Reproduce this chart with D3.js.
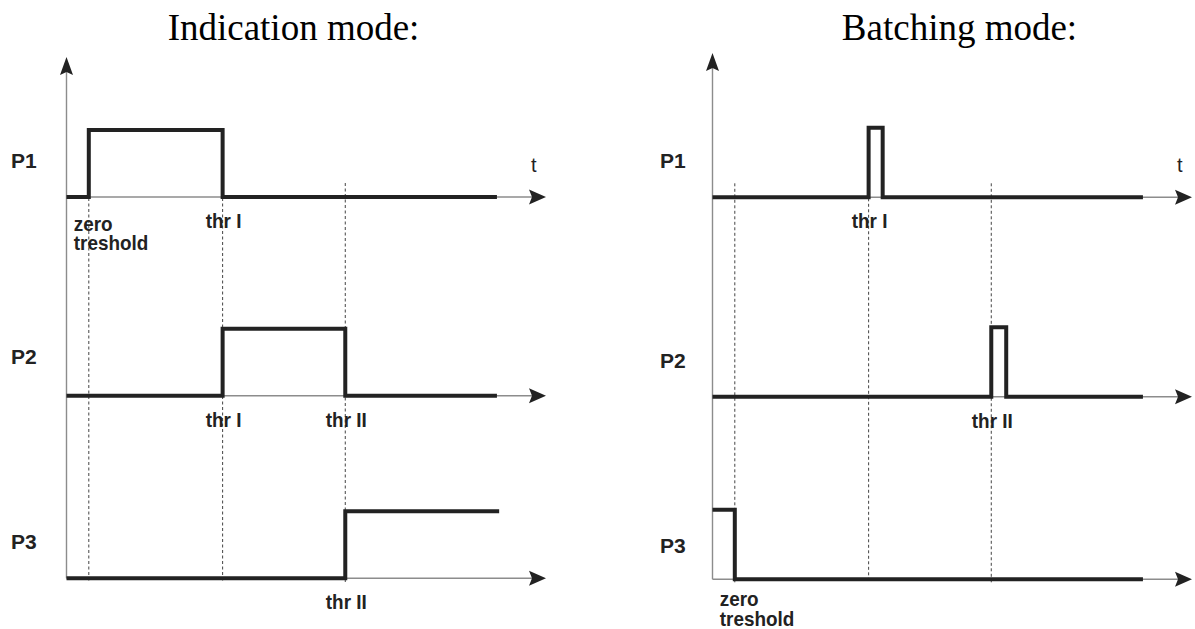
<!DOCTYPE html>
<html>
<head>
<meta charset="utf-8">
<script src="https://cdn.jsdelivr.net/npm/d3@7/dist/d3.min.js"></script>
<style>
  html, body { margin: 0; padding: 0; background: #fff; }
  svg { display: block; }
</style>
</head>
<body>
<script>
// ---- Data -------------------------------------------------------------
// Time axis in arbitrary units; threshold crossing instants.
const thresholdNames = ["zero treshold", "thr I", "thr II"];
const thresholdTimes = [1, 7, 12.5];
const rowNames = ["P1", "P2", "P3"];
const timeAxisEnd = 21.5;

// Step signals: breakpoints (t) and level that holds from each breakpoint on.
const indicationP1T = [0, 1, 7, 19.3];
const indicationP1V = [0, 1, 0, 0];
const indicationP2T = [0, 7, 12.5, 19.3];
const indicationP2V = [0, 1, 0, 0];
const indicationP3T = [0, 12.5, 19.4];
const indicationP3V = [0, 1, 1];

const batchingP1T = [0, 7, 7.63, 19.3];
const batchingP1V = [0, 1, 0, 0];
const batchingP2T = [0, 12.5, 13.17, 19.3];
const batchingP2V = [0, 1, 0, 0];
const batchingP3T = [0, 1, 19.3];
const batchingP3V = [1, 0, 0];

// Threshold labels under each row: [row index, threshold index]
const indicationLabels = [[0, 0], [0, 1], [1, 1], [1, 2], [2, 2]];
const batchingLabels = [[0, 1], [1, 2], [2, 0]];

// ---- Drawing ----------------------------------------------------------
const W = 1195, H = 629;
const svg = d3.select("body").append("svg")
  .attr("width", W).attr("height", H)
  .attr("viewBox", `0 0 ${W} ${H}`);

svg.append("rect").attr("width", W).attr("height", H).attr("fill", "#fff");

const INK = "#222";
const AXIS = "#8c8c8c";
const SANS = "'Liberation Sans', Arial, Helvetica, sans-serif";
const SERIF = "'Liberation Serif', 'Times New Roman', Times, serif";
const SMALL_SIZE = 21;     // threshold label size
const SMALL_SQUEEZE = 0.9; // slightly condensed label face

const toPoints = (ts, vs) => ts.map((t, i) => ({ t, v: vs[i] }));

// bold, horizontally condensed label (one or more lines) placed at (px, py)
function smallLabel(g, px, py, lines, anchor) {
  const t = g.append("text")
    .attr("transform", `translate(${px},${py}) scale(${SMALL_SQUEEZE},1)`)
    .attr("text-anchor", anchor)
    .attr("font-family", SANS).attr("font-size", SMALL_SIZE).attr("font-weight", "bold")
    .attr("fill", INK);
  lines.forEach((w, k) => {
    t.append("tspan").attr("x", 0).attr("y", k * 20).text(w);
  });
  return t;
}

function drawPanel(cfg) {
  const g = svg.append("g");
  const x = d3.scaleLinear().domain([0, timeAxisEnd]).range([cfg.x0, cfg.x0 + 479.5]);
  const ys = cfg.axisY.map(a => d3.scaleLinear().domain([0, 1]).range([a, a - cfg.amp]));
  const xEnd = x(timeAxisEnd);
  const lastAxis = cfg.axisY[cfg.axisY.length - 1];

  // title
  g.append("text")
    .attr("x", cfg.titleX).attr("y", 40)
    .attr("text-anchor", "middle")
    .attr("font-family", SERIF).attr("font-size", 37)
    .attr("fill", "#000")
    .text(cfg.title);

  // dashed threshold guides
  const p1Edges = new Set(cfg.series[0].t.slice(1));
  thresholdTimes.forEach(tt => {
    const startY = p1Edges.has(tt) ? cfg.axisY[0] + 1 : cfg.axisY[0] - 14;
    g.append("line")
      .attr("x1", x(tt)).attr("x2", x(tt))
      .attr("y1", startY).attr("y2", lastAxis + 4)
      .attr("stroke", "#444").attr("stroke-width", 1)
      .attr("stroke-dasharray", "3,2.5");
  });

  // vertical axis with arrow
  g.append("line")
    .attr("x1", x(0)).attr("x2", x(0))
    .attr("y1", cfg.yTop + 10).attr("y2", lastAxis)
    .attr("stroke", AXIS).attr("stroke-width", 1.4);
  g.append("path")
    .attr("d", `M${x(0)},${cfg.yTop} L${x(0) + 6.5},${cfg.yTop + 18} L${x(0)},${cfg.yTop + 15} L${x(0) - 6.5},${cfg.yTop + 18} Z`)
    .attr("fill", INK);

  // horizontal time axes with arrows
  cfg.axisY.forEach(a => {
    g.append("line")
      .attr("x1", x(0)).attr("x2", xEnd - 8)
      .attr("y1", a).attr("y2", a)
      .attr("stroke", AXIS).attr("stroke-width", 1.4);
    g.append("path")
      .attr("d", `M${xEnd},${a} L${xEnd - 17},${a - 7.5} L${xEnd - 14},${a} L${xEnd - 17},${a + 7.5} Z`)
      .attr("fill", INK);
  });

  // "t" label on the first time axis
  g.append("text")
    .attr("x", xEnd - 15).attr("y", cfg.axisY[0] - 25)
    .attr("font-family", SANS).attr("font-size", 20)
    .attr("fill", INK)
    .text("t");

  // step signals
  cfg.series.forEach((s, i) => {
    const line = d3.line()
      .x(d => x(d.t))
      .y(d => ys[i](d.v))
      .curve(d3.curveStepAfter);
    g.append("path")
      .attr("d", line(toPoints(s.t, s.v)))
      .attr("fill", "none")
      .attr("stroke", INK).attr("stroke-width", 4)
      .attr("stroke-linejoin", "miter").attr("stroke-linecap", "butt");
  });

  // row names
  rowNames.forEach((name, i) => {
    g.append("text")
      .attr("x", cfg.labelX).attr("y", cfg.rowLabelY[i])
      .attr("font-family", SANS).attr("font-size", 21).attr("font-weight", "bold")
      .attr("fill", INK)
      .text(name);
  });

  // threshold labels
  cfg.labels.forEach(([row, th]) => {
    const ax = cfg.axisY[row];
    const tx = x(thresholdTimes[th]);
    if (th === 0) {
      smallLabel(g, tx - 15, ax + cfg.zeroDy, thresholdNames[0].split(" "), "start");
    } else {
      smallLabel(g, tx + 1, ax + 31, [thresholdNames[th]], "middle");
    }
  });
}

drawPanel({
  title: "Indication mode:",
  titleX: 293.5,
  x0: 66.5,
  yTop: 57,
  axisY: [197, 395.7, 578.3],
  amp: 67,
  labelX: 11,
  rowLabelY: [168, 364, 549],
  zeroDy: 33.5,
  series: [
    { t: indicationP1T, v: indicationP1V },
    { t: indicationP2T, v: indicationP2V },
    { t: indicationP3T, v: indicationP3V }
  ],
  labels: indicationLabels
});

drawPanel({
  title: "Batching mode:",
  titleX: 959.5,
  x0: 712.5,
  yTop: 53,
  axisY: [197.3, 396.7, 579.3],
  amp: 69.5,
  labelX: 660,
  rowLabelY: [168, 367.7, 553],
  zeroDy: 27,
  series: [
    { t: batchingP1T, v: batchingP1V },
    { t: batchingP2T, v: batchingP2V },
    { t: batchingP3T, v: batchingP3V }
  ],
  labels: batchingLabels
});
</script>
</body>
</html>
